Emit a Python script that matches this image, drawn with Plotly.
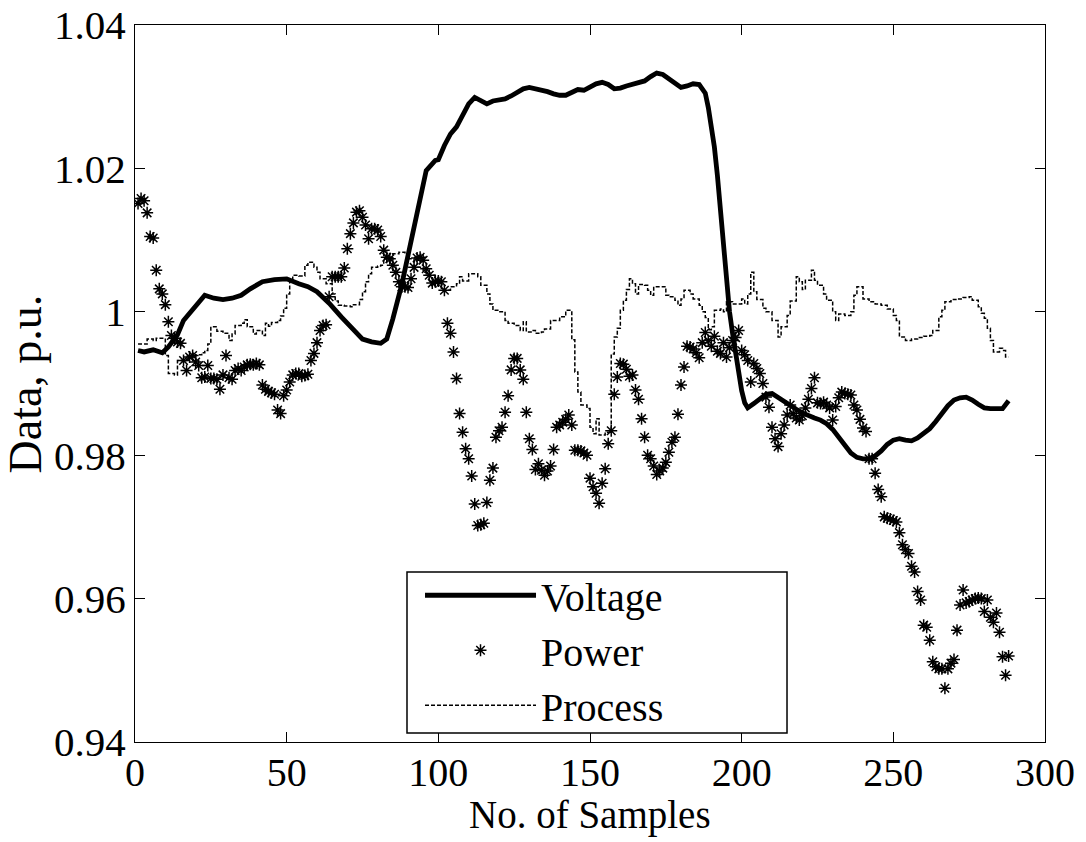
import plotly.graph_objects as go

# ---------------- data ----------------
voltage_x = [1, 3, 6, 9, 11, 14, 16, 20, 23, 26, 29, 32, 35, 38, 42, 46, 50, 54, 57, 60,
             64, 68, 72, 75, 78, 81, 83, 85, 88, 92, 96, 99, 100, 102, 104, 106, 108, 110, 112, 114,
             116, 118, 120, 122, 124, 126, 128, 130, 132, 134, 136, 138, 140, 142, 144, 146, 148, 150, 152, 154,
             156, 158, 160, 162, 164, 166, 168, 170, 172, 174, 176, 178, 180, 182, 184, 186, 188, 189, 190, 191,
             192, 193, 194, 195, 196, 197, 198, 199, 200, 201, 202, 204, 206, 208, 210, 212, 214, 216, 218, 220,
             222, 224, 226, 228, 230, 232, 234, 236, 238, 240, 242, 244, 246, 248, 250, 252, 254, 256, 258, 260,
             262, 264, 266, 268, 270, 272, 274, 276, 278, 280, 282, 284, 286, 288]
voltage_y = [0.9946, 0.9944, 0.9947, 0.9943, 0.9951, 0.9968, 0.9988, 1.0008, 1.0023, 1.0019, 1.0017, 1.0019, 1.0023, 1.0032, 1.0042, 1.0045, 1.0046, 1.0039, 1.0035, 1.0028,
             1.0012, 0.9993, 0.9975, 0.9962, 0.9958, 0.9956, 0.9962, 0.9990, 1.0039, 1.0118, 1.0197, 1.0211, 1.0212, 1.0232, 1.0248, 1.0258, 1.0275, 1.0290, 1.0299, 1.0295,
             1.0290, 1.0294, 1.0295, 1.0297, 1.0301, 1.0306, 1.0311, 1.0313, 1.0311, 1.0310, 1.0307, 1.0304, 1.0302, 1.0302, 1.0306, 1.0310, 1.0309, 1.0313, 1.0318, 1.0320,
             1.0317, 1.0311, 1.0312, 1.0315, 1.0317, 1.0319, 1.0322, 1.0328, 1.0333, 1.0331, 1.0325, 1.0318, 1.0313, 1.0315, 1.0318, 1.0317, 1.0305, 1.0285, 1.0262, 1.0230,
             1.0190, 1.0140, 1.0085, 1.0040, 1.0000, 0.9970, 0.9940, 0.9912, 0.9890, 0.9873, 0.9866, 0.9872, 0.9878, 0.9885, 0.9886, 0.9880, 0.9874, 0.9869, 0.9864, 0.9859,
             0.9855, 0.9852, 0.9849, 0.9844, 0.9836, 0.9825, 0.9812, 0.9803, 0.9797, 0.9795, 0.9795, 0.9799, 0.9806, 0.9815, 0.9821, 0.9823, 0.9821, 0.9820, 0.9824, 0.9830,
             0.9837, 0.9847, 0.9858, 0.9869, 0.9877, 0.9880, 0.9881, 0.9877, 0.9871, 0.9866, 0.9865, 0.9865, 0.9865, 0.9876]

power_y = [1.0151, 1.0158, 1.0155, 1.0138, 1.0105, 1.0103, 1.0058, 1.0032, 1.0025, 1.0010,
           0.9986, 0.9967, 0.9963, 0.9958, 0.9956, 0.9932, 0.9918, 0.9937, 0.9939, 0.9930,
           0.9925, 0.9908, 0.9909, 0.9925, 0.9907, 0.9907, 0.9906, 0.9892, 0.9912, 0.9939,
           0.9908, 0.9906, 0.9918, 0.9921, 0.9918, 0.9923, 0.9926, 0.9927, 0.9926, 0.9928,
           0.9926, 0.9898, 0.9892, 0.9889, 0.9887, 0.9885, 0.9863, 0.9858, 0.9883, 0.9891,
           0.9902, 0.9912, 0.9914, 0.9914, 0.9910, 0.9911, 0.9913, 0.9932, 0.9942, 0.9957,
           0.9974, 0.9981, 0.9982, 1.0021, 1.0049, 1.0049, 1.0049, 1.0049, 1.0061, 1.0088,
           1.0109, 1.0124, 1.0139, 1.0141, 1.0132, 1.0121, 1.0102, 1.0116, 1.0116, 1.0114,
           1.0105, 1.0086, 1.0076, 1.0074, 1.0065, 1.0055, 1.0042, 1.0035, 1.0035, 1.0034,
           1.0046, 1.0062, 1.0075, 1.0076, 1.0072, 1.0060, 1.0051, 1.0040, 1.0042, 1.0043,
           1.0042, 1.0030, 0.9984, 0.9970, 0.9944, 0.9907, 0.9858, 0.9832, 0.9809, 0.9795,
           0.9771, 0.9732, 0.9702, 0.9703, 0.9705, 0.9734, 0.9765, 0.9782, 0.9825, 0.9834,
           0.9839, 0.9860, 0.9883, 0.9919, 0.9935, 0.9935, 0.9919, 0.9906, 0.9860, 0.9823,
           0.9808, 0.9780, 0.9788, 0.9779, 0.9772, 0.9778, 0.9785, 0.9808, 0.9839, 0.9842,
           0.9846, 0.9850, 0.9856, 0.9842, 0.9807, 0.9807, 0.9806, 0.9803, 0.9800, 0.9768,
           0.9756, 0.9747, 0.9733, 0.9761, 0.9781, 0.9816, 0.9834, 0.9885, 0.9909, 0.9928,
           0.9927, 0.9920, 0.9910, 0.9912, 0.9891, 0.9878, 0.9851, 0.9825, 0.9800, 0.9795,
           0.9785, 0.9773, 0.9778, 0.9782, 0.9790, 0.9804, 0.9818, 0.9825, 0.9857, 0.9898,
           0.9923, 0.9952, 0.9951, 0.9948, 0.9943, 0.9936, 0.9957, 0.9971, 0.9960, 0.9952,
           0.9966, 0.9945, 0.9942, 0.9957, 0.9937, 0.9950, 0.9960, 0.9964, 0.9974, 0.9946,
           0.9940, 0.9932, 0.9902, 0.9928, 0.9921, 0.9914, 0.9900, 0.9881, 0.9867, 0.9839,
           0.9823, 0.9812, 0.9830, 0.9842, 0.9856, 0.9870, 0.9858, 0.9852, 0.9849, 0.9855,
           0.9866, 0.9878, 0.9893, 0.9908, 0.9873, 0.9872, 0.9874, 0.9870, 0.9866, 0.9849,
           0.9868, 0.9880, 0.9888, 0.9886, 0.9885, 0.9884, 0.9870, 0.9863, 0.9850, 0.9838,
           0.9833, 0.9795, 0.9795, 0.9775, 0.9752, 0.9742, 0.9714, 0.9712, 0.9711, 0.9709,
           0.9707, 0.9692, 0.9675, 0.9668, 0.9663, 0.9645, 0.9637, 0.9610, 0.9598, 0.9563,
           0.9560, 0.9542, 0.9512, 0.9505, 0.9502, 0.9502, 0.9475, 0.9502, 0.9510, 0.9515,
           0.9556, 0.9591, 0.9612, 0.9594, 0.9596, 0.9598, 0.9600, 0.9601, 0.9600, 0.9582,
           0.9598, 0.9574, 0.9567, 0.9580, 0.9553, 0.9519, 0.9493, 0.9520]
power_x = list(range(1, len(power_y) + 1))

process_x = [1, 3, 4, 6, 7, 9, 10, 11, 13, 14, 17, 18, 20, 22, 23, 24, 25, 27, 29, 31,
             32, 33, 35, 36, 37, 39, 40, 42, 43, 44, 45, 47, 48, 49, 50, 51, 52, 54, 56, 57,
             59, 60, 61, 63, 65, 66, 67, 69, 71, 72, 74, 75, 76, 77, 78, 80, 81, 82, 85, 87,
             89, 90, 92, 94, 95, 97, 99, 100, 101, 103, 104, 106, 107, 108, 110, 113, 114, 116, 117, 118,
             120, 122, 123, 125, 127, 128, 129, 131, 132, 134, 135, 137, 139, 140, 142, 144, 145, 146, 147, 149,
             150, 151, 152, 153, 155, 157, 158, 159, 160, 161, 162, 163, 164, 165, 166, 168, 169, 170, 171, 173,
             175, 176, 178, 179, 180, 181, 183, 184, 186, 187, 188, 189, 190, 191, 193, 194, 195, 197, 199, 200,
             201, 202, 203, 204, 205, 207, 208, 210, 212, 213, 215, 216, 218, 219, 220, 221, 223, 224, 225, 227,
             228, 230, 231, 232, 234, 236, 237, 238, 240, 242, 244, 246, 248, 250, 251, 252, 254, 256, 258, 260,
             262, 263, 265, 266, 267, 269, 271, 273, 275, 276, 278, 279, 280, 281, 282, 283, 285, 286, 287, 288]
process_y = [0.9955, 0.9955, 0.9962, 0.9960, 0.9963, 0.9963, 0.9939, 0.9914, 0.9912, 0.9932, 0.9934, 0.9937, 0.9940, 0.9943, 0.9946, 0.9955, 0.9979, 0.9973, 0.9970, 0.9960,
             0.9969, 0.9981, 0.9984, 0.9989, 0.9979, 0.9969, 0.9974, 0.9967, 0.9984, 0.9980, 0.9985, 0.9988, 0.9994, 1.0005, 1.0025, 1.0042, 1.0051, 1.0050, 1.0065, 1.0069,
             1.0062, 1.0055, 1.0046, 1.0039, 1.0025, 1.0015, 1.0009, 1.0008, 1.0007, 1.0010, 1.0017, 1.0028, 1.0042, 1.0053, 1.0062, 1.0064, 1.0065, 1.0074, 1.0081, 1.0083,
             1.0081, 1.0074, 1.0062, 1.0062, 1.0055, 1.0051, 1.0049, 1.0040, 1.0030, 1.0030, 1.0035, 1.0039, 1.0049, 1.0043, 1.0053, 1.0049, 1.0037, 1.0025, 1.0011, 1.0002,
             1.0000, 0.9988, 0.9984, 0.9981, 0.9974, 0.9986, 0.9972, 0.9974, 0.9970, 0.9972, 0.9976, 0.9988, 0.9988, 0.9993, 1.0002, 0.9961, 0.9916, 0.9888, 0.9870, 0.9865,
             0.9839, 0.9830, 0.9851, 0.9828, 0.9832, 0.9941, 0.9965, 0.9977, 1.0002, 1.0016, 1.0031, 1.0046, 1.0039, 1.0025, 1.0038, 1.0037, 1.0030, 1.0023, 1.0035, 1.0035,
             1.0023, 1.0021, 1.0016, 1.0009, 1.0018, 1.0030, 1.0025, 1.0018, 1.0009, 1.0000, 0.9992, 0.9975, 0.9979, 1.0002, 1.0004, 1.0000, 1.0014, 1.0011, 1.0011, 1.0018,
             1.0011, 1.0025, 1.0055, 1.0028, 1.0017, 1.0005, 1.0000, 0.9988, 0.9965, 0.9979, 0.9995, 1.0015, 1.0049, 1.0042, 1.0031, 1.0044, 1.0058, 1.0044, 1.0037, 1.0025,
             1.0016, 1.0000, 0.9988, 0.9997, 0.9995, 1.0000, 1.0023, 1.0035, 1.0018, 1.0014, 1.0011, 1.0009, 1.0004, 0.9995, 0.9988, 0.9965, 0.9960, 0.9962, 0.9964, 0.9966,
             0.9967, 0.9974, 0.9993, 1.0002, 1.0014, 1.0017, 1.0018, 1.0020, 1.0021, 1.0016, 1.0007, 0.9998, 0.9991, 0.9977, 0.9960, 0.9944, 0.9949, 0.9946, 0.9937, 0.9937]

x_ticks = [0, 50, 100, 150, 200, 250, 300]
y_ticks = [0.94, 0.96, 0.98, 1.00, 1.02, 1.04]
y_tick_labels = ["0.94", "0.96", "0.98", "1", "1.02", "1.04"]

FONT = "Liberation Serif"

fig = go.Figure()
fig.add_trace(go.Scatter(x=voltage_x, y=voltage_y, mode="lines", name="Voltage",
                         legendgroup="a",
                         line=dict(color="black", width=4.8)))
fig.add_trace(go.Scatter(x=power_x, y=power_y, mode="markers", name="Power",
                         legendgroup="b",
                         marker=dict(symbol="asterisk-open", size=10,
                                     line=dict(color="black", width=1.5), color="black")))
fig.add_trace(go.Scatter(x=process_x, y=process_y, mode="lines", name="Process",
                         legendgroup="c",
                         line=dict(color="black", width=1.5, dash="4px,2px", shape="hv")))

axis_common = dict(showgrid=False, zeroline=False, showline=True, linecolor="black",
                   linewidth=1, mirror="ticks", ticks="inside", ticklen=10,
                   tickcolor="black", tickwidth=1, automargin=False)

fig.update_xaxes(range=[0, 300], tickvals=x_ticks,
                 tickfont=dict(family=FONT, size=40, color="black"),
                 **axis_common)
try:
    fig.update_xaxes(ticklabelstandoff=-5)
except Exception:
    pass
fig.update_yaxes(range=[0.94, 1.04], tickvals=y_ticks, ticktext=y_tick_labels,
                 tickfont=dict(family=FONT, size=41, color="black"),
                 **axis_common)

# legend frame (drawn as a shape so the box has the reference's proportions)
fig.add_shape(type="rect", xref="paper", yref="paper",
              x0=0.2989, x1=0.7165, y0=0.0126, y1=0.2371,
              line=dict(color="black", width=1.5), fillcolor="white", layer="above")

fig.add_annotation(text="No. of Samples", xref="paper", yref="paper",
                   x=0.5, y=-0.1025, xanchor="center", yanchor="middle", showarrow=False,
                   font=dict(family=FONT, size=39, color="black"))
fig.add_annotation(text="Data, p.u.", xref="paper", yref="paper", textangle=-90,
                   x=-0.1198, y=0.5, xanchor="center", yanchor="middle", showarrow=False,
                   font=dict(family=FONT, size=46, color="black"))

fig.update_layout(
    width=1086, height=842,
    margin=dict(l=135, r=41, t=25, b=100),
    paper_bgcolor="white", plot_bgcolor="white",
    font=dict(family=FONT, color="black"),
    legend=dict(x=0.3132, y=0.250, xanchor="left", yanchor="top",
                bgcolor="rgba(0,0,0,0)", borderwidth=0,
                font=dict(family=FONT, size=40, color="black"),
                itemwidth=111, traceorder="grouped", tracegroupgap=0),
    showlegend=True,
)

fig.write_html("out.html")
